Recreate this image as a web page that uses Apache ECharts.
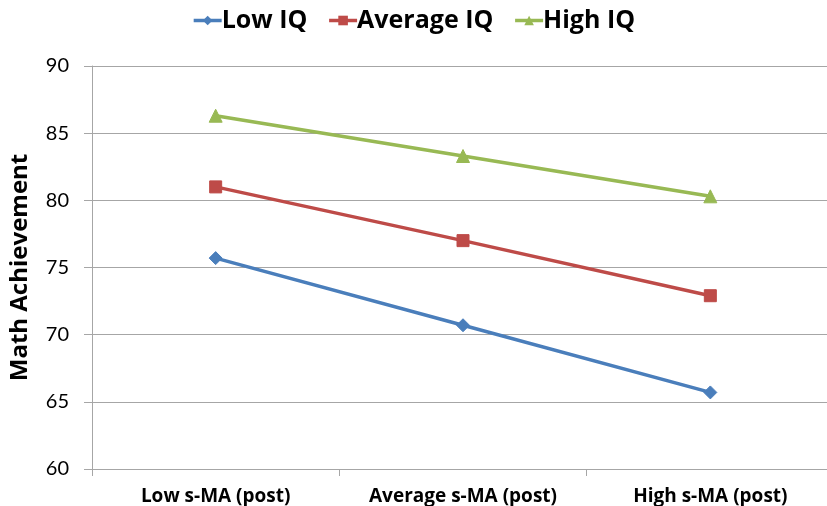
<!DOCTYPE html>
<html><head><meta charset="utf-8">
<script src="https://cdn.jsdelivr.net/npm/echarts@6/dist/echarts.min.js"></script>
<style>html,body{margin:0;padding:0;background:#fff}#c{width:827px;height:506px}</style>
</head><body><div id="c"></div>
<script>
const categories = ["Low s-MA (post)", "Average s-MA (post)", "High s-MA (post)"];
const lowIQ = [75.7, 70.7, 65.7];
const averageIQ = [81.0, 77.0, 72.9];
const highIQ = [86.3, 83.3, 80.3];
const seriesNames = ["Low IQ", "Average IQ", "High IQ"];
const yTicks = {min: 60, max: 90, interval: 5};

const font = "'Open Sans', sans-serif";
const fontReg = "Lato, 'Open Sans', sans-serif";
const chart = echarts.init(document.getElementById('c'), null, {renderer: 'canvas'});
function mk(name, data, color, symbol, size) {
  return {
    name, type: 'line', data, symbol, symbolSize: size,
    lineStyle: {color, width: 3.5},
    itemStyle: {color, borderColor: color},
    emphasis: {disabled: true}
  };
}
chart.setOption({
  animation: false,
  color: ['#4a7ebb', '#be4b48', '#98b954'],
  legend: {
    top: 3, left: 'center', itemGap: 20, itemWidth: 28, itemHeight: 12,
    lineStyle: {width: 3.5},
    textStyle: {fontFamily: font, fontWeight: 'bold', fontSize: 25, color: '#000', padding: [0, 0, 0, -5]},
    data: seriesNames
  },
  grid: {left: 92, top: 66, width: 742, bottom: 37, containLabel: false, outerBoundsMode: 'none'},
  xAxis: {
    type: 'category', data: categories, boundaryGap: true,
    axisLine: {lineStyle: {color: '#a6a6a6', width: 1}},
    axisTick: {show: true, length: 7, lineStyle: {color: '#a6a6a6'}},
    axisLabel: {fontFamily: font, fontWeight: 'bold', fontSize: 19, color: '#000', margin: 18}
  },
  yAxis: {
    type: 'value', min: yTicks.min, max: yTicks.max, interval: yTicks.interval,
    name: 'Math Achievement', nameLocation: 'middle', nameGap: 60, nameRotate: 90,
    nameTextStyle: {fontFamily: font, fontWeight: 'bold', fontSize: 24, color: '#000'},
    axisLine: {show: true, lineStyle: {color: '#a6a6a6'}},
    axisTick: {show: true, length: 8, lineStyle: {color: '#a6a6a6'}},
    splitLine: {lineStyle: {color: '#a6a6a6'}},
    axisLabel: {fontFamily: fontReg, fontSize: 20, color: '#000', margin: 23}
  },
  series: [
    mk(seriesNames[0], lowIQ, '#4a7ebb', 'diamond', 13),
    mk(seriesNames[1], averageIQ, '#be4b48', 'rect', 12),
    mk(seriesNames[2], highIQ, '#98b954', 'triangle', 13)
  ]
});
</script></body></html>
